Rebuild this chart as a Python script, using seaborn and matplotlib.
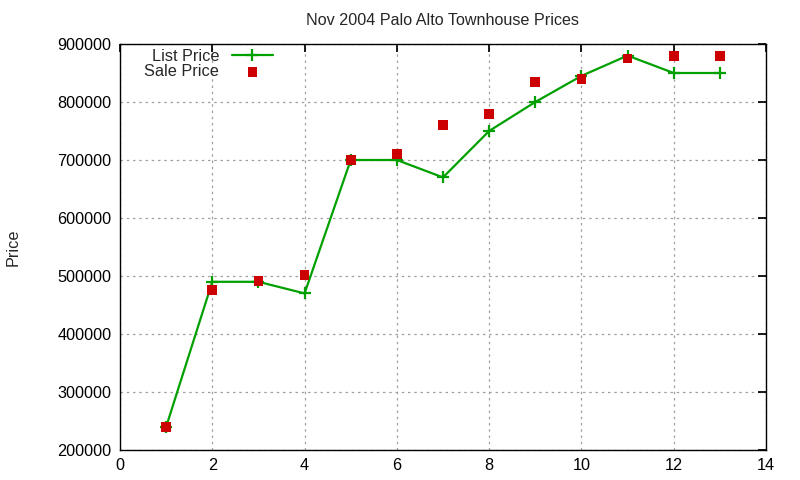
#!/usr/bin/env python3
"""Nov 2004 Palo Alto Townhouse Prices - list price vs sale price."""

import matplotlib
matplotlib.use("Agg")
import matplotlib.pyplot as plt
import pandas as pd
import seaborn as sns

# ----- Dados -----
casas = list(range(1, 14))
preco_lista = [240000, 490000, 490000, 470000, 700000, 700000, 670000,
               750000, 800000, 845000, 880000, 850000, 850000]
preco_venda = [240000, 476000, 491000, 502000, 700000, 711000, 761000,
               780000, 834000, 839000, 875000, 879000, 879000]

df = pd.DataFrame({"casa": casas, "lista": preco_lista, "venda": preco_venda})

sns.set_theme(style="white")
plt.rcParams["font.family"] = ["Liberation Sans", "DejaVu Sans"]

fig = plt.figure(figsize=(8, 4.8), dpi=100)
ax = fig.add_axes([120 / 800, 1 - 450 / 480, 646 / 800, 406 / 480])

sns.lineplot(data=df, x="casa", y="lista", ax=ax, color="#00a000",
             linewidth=1.6, marker="+", markersize=8, markeredgewidth=1.6,
             markeredgecolor="#00a000", label="List Price")
sns.scatterplot(data=df, x="casa", y="venda", ax=ax, color="#cc0000",
                marker="s", s=50, edgecolor="none", label="Sale Price",
                zorder=3)

ax.set_xlim(0, 14)
ax.set_ylim(200000, 900000)
ax.set_xticks(range(0, 15, 2))
ax.set_yticks(range(200000, 900001, 100000))
ax.ticklabel_format(style="plain", axis="y")
ax.grid(True, color="#a0a0a0", linestyle=(0, (2, 3)), linewidth=0.9)
ax.tick_params(direction="in", length=6, top=True, right=True,
               labelsize=11.7, colors="black", pad=6)
for lado in ax.spines.values():
    lado.set_color("black")
    lado.set_linewidth(1.0)

ax.set_xlabel("")
ax.set_ylabel("")
fig.text(13 / 800, 1 - 247 / 480, "Price", rotation=90, fontsize=11.7,
         ha="center", va="center")
ax.set_title("Nov 2004 Palo Alto Townhouse Prices", fontsize=11.6, pad=14)

ax.legend(loc="upper left", frameon=False, markerfirst=False, fontsize=11.7,
          handlelength=2.5, borderaxespad=0.0, labelspacing=0.0,
          borderpad=0.3, bbox_to_anchor=(0.03, 1.0))

fig.savefig("out.png", dpi=100)
